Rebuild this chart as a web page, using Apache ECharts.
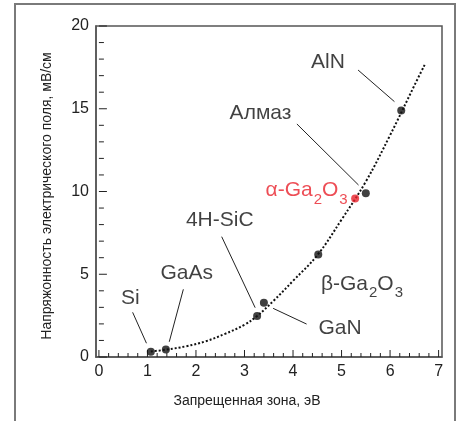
<!DOCTYPE html>
<html>
<head>
<meta charset="utf-8">
<script src="https://cdn.jsdelivr.net/npm/echarts@6/dist/echarts.min.js"></script>
<style>
html,body{margin:0;padding:0;background:#fff;}
#c{width:461px;height:421px;}
</style>
</head>
<body>
<div id="c"></div>
<script>
// ---- data ----
var materials = ['Si', 'GaAs', '4H-SiC', 'GaN', 'β-Ga2O3', 'α-Ga2O3', 'Алмаз', 'AlN'];
var bandGap   = [1.07, 1.38, 3.26, 3.40, 4.52, 5.28, 5.50, 6.23];
var fieldMV   = [0.32, 0.46, 2.48, 3.28, 6.20, 9.57, 9.90, 14.90];
var highlighted = [false, false, false, false, false, true, false, false];

var trendX = [1.07, 1.4, 1.8, 2.2, 2.6, 3.0, 3.26, 3.6, 4.0, 4.5, 5.0, 5.5, 6.0, 6.5, 6.72];
var trendY = [0.33, 0.45, 0.65, 0.95, 1.4, 1.95, 2.48, 3.4, 4.6, 6.15, 8.3, 10.6, 13.4, 16.4, 17.7];

var xTickLabels = [0, 1, 2, 3, 4, 5, 6, 7];
var yTickLabels = [0, 5, 10, 15, 20];
var xMinorStep = 0.2, yMinorStep = 1;

// annotation anchors (data coords) and leader lines
var labelNames = ['AlN', 'Алмаз', 'α-Ga2O3', '4H-SiC', 'GaAs', 'Si', 'GaN', 'β-Ga2O3'];
var labelX = [4.72, 3.33, 4.28, 2.49, 1.81, 0.645, 4.97, 5.42];
var labelY = [17.82, 14.74, 10.05, 8.24, 5.09, 3.55, 1.77, 4.40];
var labelRed = [false, false, true, false, false, false, false, false];
var leaderFrom = [[5.34, 17.34], [4.08, 14.08], [2.53, 7.27], [1.74, 4.09], [0.695, 2.70], [3.59, 2.94]];
var leaderTo   = [[6.09, 15.43], [5.35, 10.39], [3.22, 2.98], [1.45, 0.92], [0.98, 0.83], [4.28, 1.99]];

// ---- build ----
function range(a, b, s) { var r = []; for (var v = a; v <= b + 1e-9; v += s) r.push(Math.round(v * 100) / 100); return r; }
function isMajor(v, list) { return list.some(function (m) { return Math.abs(m - v) < 1e-6; }); }
var tickData = [];
range(0, 7, xMinorStep).forEach(function (v) { tickData.push([v, 0, 0, isMajor(v, xTickLabels) ? 1 : 0]); });
range(0, 20, yMinorStep).forEach(function (v) { tickData.push([0, v, 1, isMajor(v, yTickLabels) ? 1 : 0]); });

var pts = bandGap.map(function (x, i) {
  return { value: [x, fieldMV[i]], itemStyle: { color: highlighted[i] ? '#e8202a' : '#111' } };
});
var trend = trendX.map(function (x, i) { return [x, trendY[i]]; });

var FF = 'Liberation Sans, Arial, sans-serif';
function fmt(name) {
  var m = name.match(/^(.*)Ga2O3$/);
  if (m) return '{t|' + m[1] + 'Ga}{s|2}{t|O}{s|3}';
  return '{t|' + name + '}';
}
var labelData = labelNames.map(function (n, i) {
  var c = labelRed[i] ? '#e8202a' : '#111';
  return {
    value: [labelX[i], labelY[i]],
    label: {
      formatter: fmt(n),
      rich: {
        t: { fontSize: 21, lineHeight: 21, verticalAlign: 'top', color: c, fontFamily: FF },
        s: { fontSize: 15, lineHeight: 15, padding: [12, 0, 0, 1], verticalAlign: 'top', color: c, fontFamily: FF }
      }
    }
  };
});
var leaders = leaderFrom.map(function (f, i) { return { coords: [f, leaderTo[i]] }; });

// layout: data grid spans x in [-0.06, 7.07]; a label grid over [0, 7] sits on the same pixel scale
var W = 461, GL = 96, GR = 19, XMIN = -0.06, XMAX = 7.07;
var pxPerUnit = (W - GL - GR) / (XMAX - XMIN);
var tickLeft = GL + (0 - XMIN) * pxPerUnit;
var tickRight = W - tickLeft - 7 * pxPerUnit;

var axisCol = '#555';
var clear = 'rgba(0,0,0,0)';
var chart = echarts.init(document.getElementById('c'), null, { renderer: 'canvas' });
chart.setOption({
  animation: false,
  backgroundColor: '#fff',
  textStyle: { fontFamily: FF },
  grid: [
    { left: GL, right: GR, top: 26, bottom: 64, show: true, borderColor: axisCol, borderWidth: 1.5, backgroundColor: 'transparent' },
    { left: tickLeft, right: tickRight, top: 26, bottom: 64, show: false }
  ],
  graphic: [
    { type: 'rect', shape: { x: 15, y: 4, width: 440, height: 430 }, style: { fill: 'none', stroke: '#7a7a7a', lineWidth: 2 }, silent: true },
    { type: 'text', x: 247, y: 401, style: { text: 'Запрещенная зона, эВ', fontSize: 14, fill: '#222', align: 'center', verticalAlign: 'middle', fontFamily: FF } },
    { type: 'text', x: 47, y: 196, rotation: Math.PI / 2, style: { text: 'Напряжонность электрического поля, мВ/см', fontSize: 14, fill: '#222', align: 'center', verticalAlign: 'middle', fontFamily: FF } }
  ],
  xAxis: [
    {
      gridIndex: 0, type: 'value', min: XMIN, max: XMAX, splitLine: { show: false },
      axisLine: { show: true, onZero: false, lineStyle: { color: axisCol, width: 1.5 } },
      axisTick: { show: false }, axisLabel: { show: false }
    },
    {
      gridIndex: 1, type: 'value', min: 0, max: 7, interval: 1, splitLine: { show: false },
      axisLine: { show: false, onZero: false },
      axisTick: { show: false },
      axisLabel: { fontSize: 16, color: '#222', margin: 7 }
    }
  ],
  yAxis: [
    {
      gridIndex: 0, type: 'value', min: 0, max: 20, interval: 5, splitLine: { show: false },
      axisLine: { show: true, onZero: false, lineStyle: { color: axisCol, width: 1.5 } },
      axisTick: { show: false },
      axisLabel: { fontSize: 16, color: '#222', margin: 7 }
    },
    {
      gridIndex: 1, type: 'value', min: 0, max: 20, show: false
    }
  ],
  series: [
    {
      type: 'custom', xAxisIndex: 0, yAxisIndex: 0, data: tickData, silent: true, clip: false, z: 4,
      renderItem: function (params, api) {
        var p = api.coord([api.value(0), api.value(1)]);
        var isY = api.value(2) === 1, major = api.value(3) === 1;
        var len = isY ? (major ? 8 : 5) : (major ? 7 : 4);
        var shape = isY
          ? { x1: p[0], y1: p[1], x2: p[0] + len, y2: p[1] }
          : { x1: p[0], y1: p[1], x2: p[0], y2: p[1] - len };
        return { type: 'line', shape: shape, style: { stroke: '#222', lineWidth: 1 } };
      }
    },
    {
      type: 'line', data: trend, smooth: 0.4, symbol: 'none', silent: true,
      lineStyle: { color: '#111', width: 2, type: [2, 2], cap: 'butt' }, z: 2
    },
    {
      type: 'lines', coordinateSystem: 'cartesian2d', data: leaders, silent: true,
      lineStyle: { color: '#222', width: 1, opacity: 1 }, z: 3
    },
    {
      type: 'scatter', data: pts, symbolSize: 8, z: 5
    },
    {
      type: 'scatter', data: labelData, symbolSize: 0, silent: true, z: 6,
      label: { show: true, position: 'inside' }
    }
  ]
});
</script>
</body>
</html>
